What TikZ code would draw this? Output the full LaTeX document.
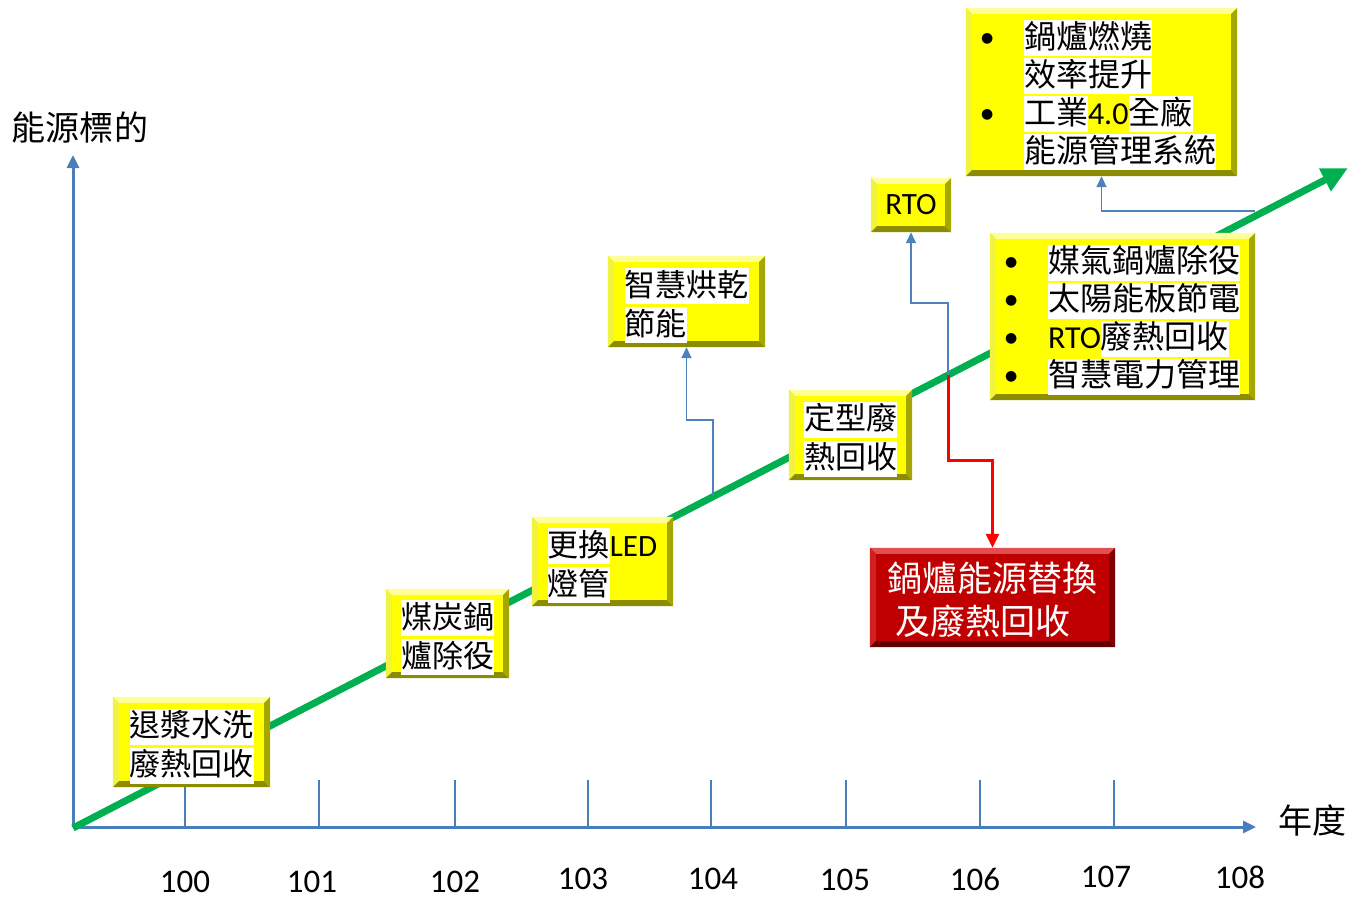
\documentclass[tikz,border=0pt]{standalone}
\usepackage{fontspec}
\setmainfont{Carlito}
\newfontfamily\cjk{Noto Sans CJK TC}
\newfontfamily\dejavu{DejaVu Sans}
\usetikzlibrary{arrows.meta,calc}
\definecolor{axisblue}{HTML}{4A7EBB}
\definecolor{connblue}{HTML}{4F81BD}
\definecolor{trendgreen}{HTML}{00B050}
\definecolor{boxyellow}{HTML}{FFFF00}
\definecolor{bevlight}{HTML}{FFFF99}
\definecolor{bevlight2}{HTML}{F2F240}
\definecolor{bevdark}{HTML}{8C8C00}
\definecolor{bevdark2}{HTML}{A6A600}
\definecolor{boxred}{HTML}{C00000}
\definecolor{redlight}{HTML}{E05050}
\definecolor{redlight2}{HTML}{D02020}
\definecolor{reddark}{HTML}{600000}
\definecolor{reddark2}{HTML}{800000}
\newcommand\hl[1]{{\setlength\fboxsep{0pt}\colorbox{white}{\rule[-8pt]{0pt}{36pt}\cjk #1}}}
\newcommand\bul{\makebox[43pt][l]{\raisebox{6pt}{\dejavu\fontsize{14}{14}\selectfont ●}}}
\newcommand\bev[6]{%
  \fill[#2] (#1.north west) -- (#1.north east) -- ($(#1.north east)+(-#6,-#6)$) -- ($(#1.north west)+(#6,-#6)$) -- cycle;
  \fill[#3] (#1.north west) -- ($(#1.north west)+(#6,-#6)$) -- ($(#1.south west)+(#6,#6)$) -- (#1.south west) -- cycle;
  \fill[#4] (#1.south west) -- (#1.south east) -- ($(#1.south east)+(-#6,#6)$) -- ($(#1.south west)+(#6,#6)$) -- cycle;
  \fill[#5] (#1.north east) -- (#1.south east) -- ($(#1.south east)+(-#6,#6)$) -- ($(#1.north east)+(-#6,-#6)$) -- cycle;
}
\newcommand\ybev[1]{\bev{#1}{bevlight}{bevlight2}{bevdark}{bevdark2}{6pt}}
\begin{document}
\begin{tikzpicture}[x=1pt,y=-1pt,
  box/.style={fill=boxyellow, inner sep=0pt},
  boxtext/.style={inner sep=0pt, align=left, font=\fontsize{31}{39}\selectfont},
  listtext/.style={boxtext, font=\fontsize{32}{38}\selectfont},
  axis/.style={draw=axisblue, line width=3pt, -{Triangle[length=13pt,width=12pt]}},
  tickline/.style={draw=axisblue, line width=1.6pt},
  conn/.style={draw=connblue, line width=1.6pt, -{Triangle[length=11pt,width=10pt]}},
  redconn/.style={draw=red, line width=3pt, -{Triangle[length=14pt,width=13pt]}},
  trend/.style={draw=trendgreen, line width=7pt, -{Triangle[length=26pt,width=24pt]}},
  year/.style={font=\fontsize{33}{38}\selectfont},
  axlabel/.style={font=\cjk\fontsize{34}{40}\selectfont}]
\useasboundingbox (0,0) rectangle (1362,899);
% axes
\coordinate (O) at (73,827);
\coordinate (ytop) at (73,155);
\coordinate (xend) at (1256,827);
\draw[axis] (O) -- (ytop);
\draw[axis] (O) -- (xend);
\foreach \x in {185,319,455,588,711,846,980,1114} \draw[tickline] (\x,780) -- (\x,827);
\node[axlabel] (ylab) at (80,128) {能源標的};
\node[axlabel] (xlab) at (1312,820) {年度};
\node[year] (y100) at (185,882) {100};
\node[year] (y101) at (312,882) {101};
\node[year] (y102) at (455,882) {102};
\node[year] (y103) at (583,879) {103};
\node[year] (y104) at (713,879) {104};
\node[year] (y105) at (845,880) {105};
\node[year] (y106) at (975,879) {106};
\node[year] (y107) at (1106,877) {107};
\node[year] (y108) at (1240,877) {108};
% trend line
\coordinate (g0) at (73,828);
\coordinate (g1) at (1348,168);
\draw[trend] (g0) -- (g1);
% connector start points on trend line
\coordinate (p4) at (713,496);
\coordinate (p6) at (948,375);
\coordinate (p8) at (1255,211);
% boxes
\node[box, minimum width=157pt, minimum height=90pt] (b1) at (191.5,742) {};
\ybev{b1}
\node[boxtext] (b1t) at ([yshift=-4pt]b1.center) {\hl{退漿水洗}\\\hl{廢熱回收}};
\node[box, minimum width=123pt, minimum height=89pt] (b2) at (447.5,633.5) {};
\ybev{b2}
\node[boxtext] (b2t) at ([yshift=-4pt]b2.center) {\hl{煤炭鍋}\\\hl{爐除役}};
\node[box, minimum width=141pt, minimum height=89pt] (b3) at (602.5,561.5) {};
\ybev{b3}
\node[boxtext] (b3t) at ([yshift=-4pt]b3.center) {\hl{更換}LED\\\hl{燈管}};
\node[box, minimum width=157pt, minimum height=91pt] (b4) at (686.5,301.5) {};
\ybev{b4}
\node[boxtext] (b4t) at ([yshift=-4pt]b4.center) {\hl{智慧烘乾}\\\hl{節能}};
\node[box, minimum width=123pt, minimum height=90pt] (b5) at (850.5,435) {};
\ybev{b5}
\node[boxtext] (b5t) at ([yshift=-4pt]b5.center) {\hl{定型廢}\\\hl{熱回收}};
\node[box, minimum width=80pt, minimum height=54pt] (rto) at (911,205) {};
\ybev{rto}
\node[boxtext, font=\fontsize{31}{36}\selectfont] (rtot) at (rto.center) {RTO};
\node[box, minimum width=265pt, minimum height=167pt] (b7) at (1122.5,316.5) {};
\ybev{b7}
\node[listtext] (b7t) at ([yshift=-3pt]b7.center)
  {\bul\hl{媒氣鍋爐除役}\\\bul\hl{太陽能板節電}\\\bul RTO\hl{廢熱回收}\\\bul\hl{智慧電力管理}};
\node[box, minimum width=271pt, minimum height=168pt] (b8) at (1101.5,92) {};
\ybev{b8}
\node[listtext] (b8t) at ([xshift=-3pt,yshift=-3pt]b8.center)
  {\bul\hl{鍋爐燃燒}\\\hspace*{43pt}\hl{效率提升}\\\bul\hl{工業}4.0\hl{全廠}\\\hspace*{43pt}\hl{能源管理系統}};
\node[fill=boxred, inner sep=0pt, minimum width=245pt, minimum height=99pt] (red) at (992.5,597.5) {};
\bev{red}{redlight}{redlight2}{reddark}{reddark2}{6pt}
\node[inner sep=0pt, align=left, text=white, font=\cjk\fontsize{35}{43}\selectfont] (redt) at ([yshift=-2pt]red.center)
  {鍋爐能源替換\\\hspace*{8pt}及廢熱回收};
% connectors
\draw[conn] (p4) -- (713,420) -| (b4.south);
\draw[conn] (p6) -- (948,303) -| (rto.south);
\draw[conn] (p8) -| (b8.south);
\draw[redconn] (p6) -- (948,460) -| (red.north);
\end{tikzpicture}
\end{document}
